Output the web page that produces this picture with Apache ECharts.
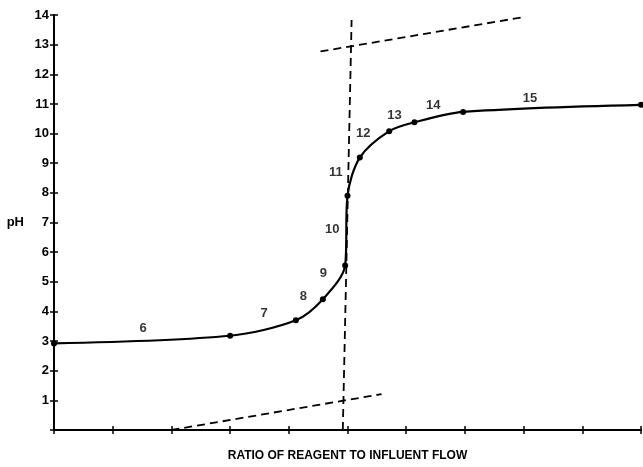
<!DOCTYPE html>
<html>
<head>
<meta charset="utf-8">
<script src="https://cdn.jsdelivr.net/npm/echarts@6/dist/echarts.min.js"></script>
<style>
  html, body { margin: 0; padding: 0; background: #fff; }
  #chart { width: 643px; height: 467px; }
</style>
</head>
<body>
<div id="chart"></div>
<script>
// titration curve points (ratio, pH)
var ratio = [0, 3.0, 4.12, 4.58, 4.96, 5.0, 5.21, 5.71, 6.14, 6.97, 10];
var ph    = [2.92, 3.18, 3.7, 4.41, 5.55, 7.9, 9.19, 10.08, 10.38, 10.73, 10.97];

// segment numbers along the curve
var segNames = ['6', '7', '8', '9', '10', '11', '12', '13', '14', '15'];
var segX = [1.52, 3.58, 4.25, 4.59, 4.74, 4.80, 5.27, 5.80, 6.46, 8.11];
var segY = [3.42, 3.93, 4.52, 5.27, 6.75, 8.7, 10.0, 10.61, 10.94, 11.2];

// dashed construction lines
var vertX = [4.92, 5.07], vertY = [0, 13.83];
var upperX = [4.54, 7.97], upperY = [12.77, 13.92];
var lowerX = [2.0, 5.58], lowerY = [0, 1.21];

function pairs(xs, ys) {
    return xs.map(function (x, i) { return [x, ys[i]]; });
}

var myChart = echarts.init(document.getElementById('chart'));
var axisFont = { color: '#000', fontFamily: 'Liberation Sans', fontWeight: 'bold', fontSize: 13 };
var lineStyleAxis = { color: '#000', width: 2 };
var dashStyle = { color: '#000', width: 1.8, type: [8, 5] };

option = {
    backgroundColor: '#fff',
    animation: false,
    grid: { left: 54, right: 2, top: 15, bottom: 35 },
    xAxis: [{
        type: 'value', min: 0, max: 10, interval: 1,
        name: 'RATIO OF REAGENT TO INFLUENT FLOW',
        nameLocation: 'middle', nameGap: 20,
        nameTextStyle: { color: '#000', fontFamily: 'Liberation Sans', fontWeight: 'bold', fontSize: 12 },
        axisLine: { lineStyle: lineStyleAxis },
        axisTick: { length: 4, lineStyle: { color: '#000', width: 1.5 } },
        axisLabel: { show: false },
        splitLine: { show: false }
    }, {
        type: 'value', min: 0, max: 10, interval: 1, position: 'bottom',
        axisLine: { show: false },
        axisTick: { inside: true, length: 4, lineStyle: { color: '#000', width: 1.5 } },
        axisLabel: { show: false },
        splitLine: { show: false }
    }],
    yAxis: [{
        type: 'value', min: 0, max: 14, interval: 1,
        name: 'pH', nameLocation: 'middle', nameRotate: 0, nameGap: 30,
        nameTextStyle: { color: '#000', fontFamily: 'Liberation Sans', fontWeight: 'bold', fontSize: 13 },
        axisLine: { show: true, lineStyle: lineStyleAxis },
        axisTick: { show: true, length: 4, lineStyle: { color: '#000', width: 1.5 } },
        axisLabel: Object.assign({ margin: 5, formatter: function (v) { return v === 0 ? '' : v; } }, axisFont),
        splitLine: { show: false }
    }, {
        type: 'value', min: 0, max: 14, interval: 1, position: 'left',
        axisLine: { show: false },
        axisTick: { show: true, inside: true, length: 4, lineStyle: { color: '#000', width: 1.5 } },
        axisLabel: { show: false },
        splitLine: { show: false }
    }],
    series: [{
        name: 'curve',
        type: 'line',
        data: pairs(ratio, ph),
        smooth: 0.3,
        clip: false,
        symbol: 'circle',
        symbolSize: 6,
        itemStyle: { color: '#000' },
        lineStyle: { color: '#000', width: 2.2 },
        z: 5
    }, {
        type: 'line', data: pairs(vertX, vertY), symbol: 'none', lineStyle: dashStyle
    }, {
        type: 'line', data: pairs(upperX, upperY), symbol: 'none', lineStyle: dashStyle
    }, {
        type: 'line', data: pairs(lowerX, lowerY), symbol: 'none', lineStyle: dashStyle
    }, {
        type: 'scatter',
        symbolSize: 0,
        data: segX.map(function (x, i) { return [x, segY[i], segNames[i]]; }),
        label: {
            show: true, position: 'inside',
            formatter: function (p) { return p.value[2]; },
            color: '#000', fontFamily: 'Liberation Sans', fontWeight: 'bold', fontSize: 13
        }
    }]
};

myChart.setOption(option);
</script>
</body>
</html>
